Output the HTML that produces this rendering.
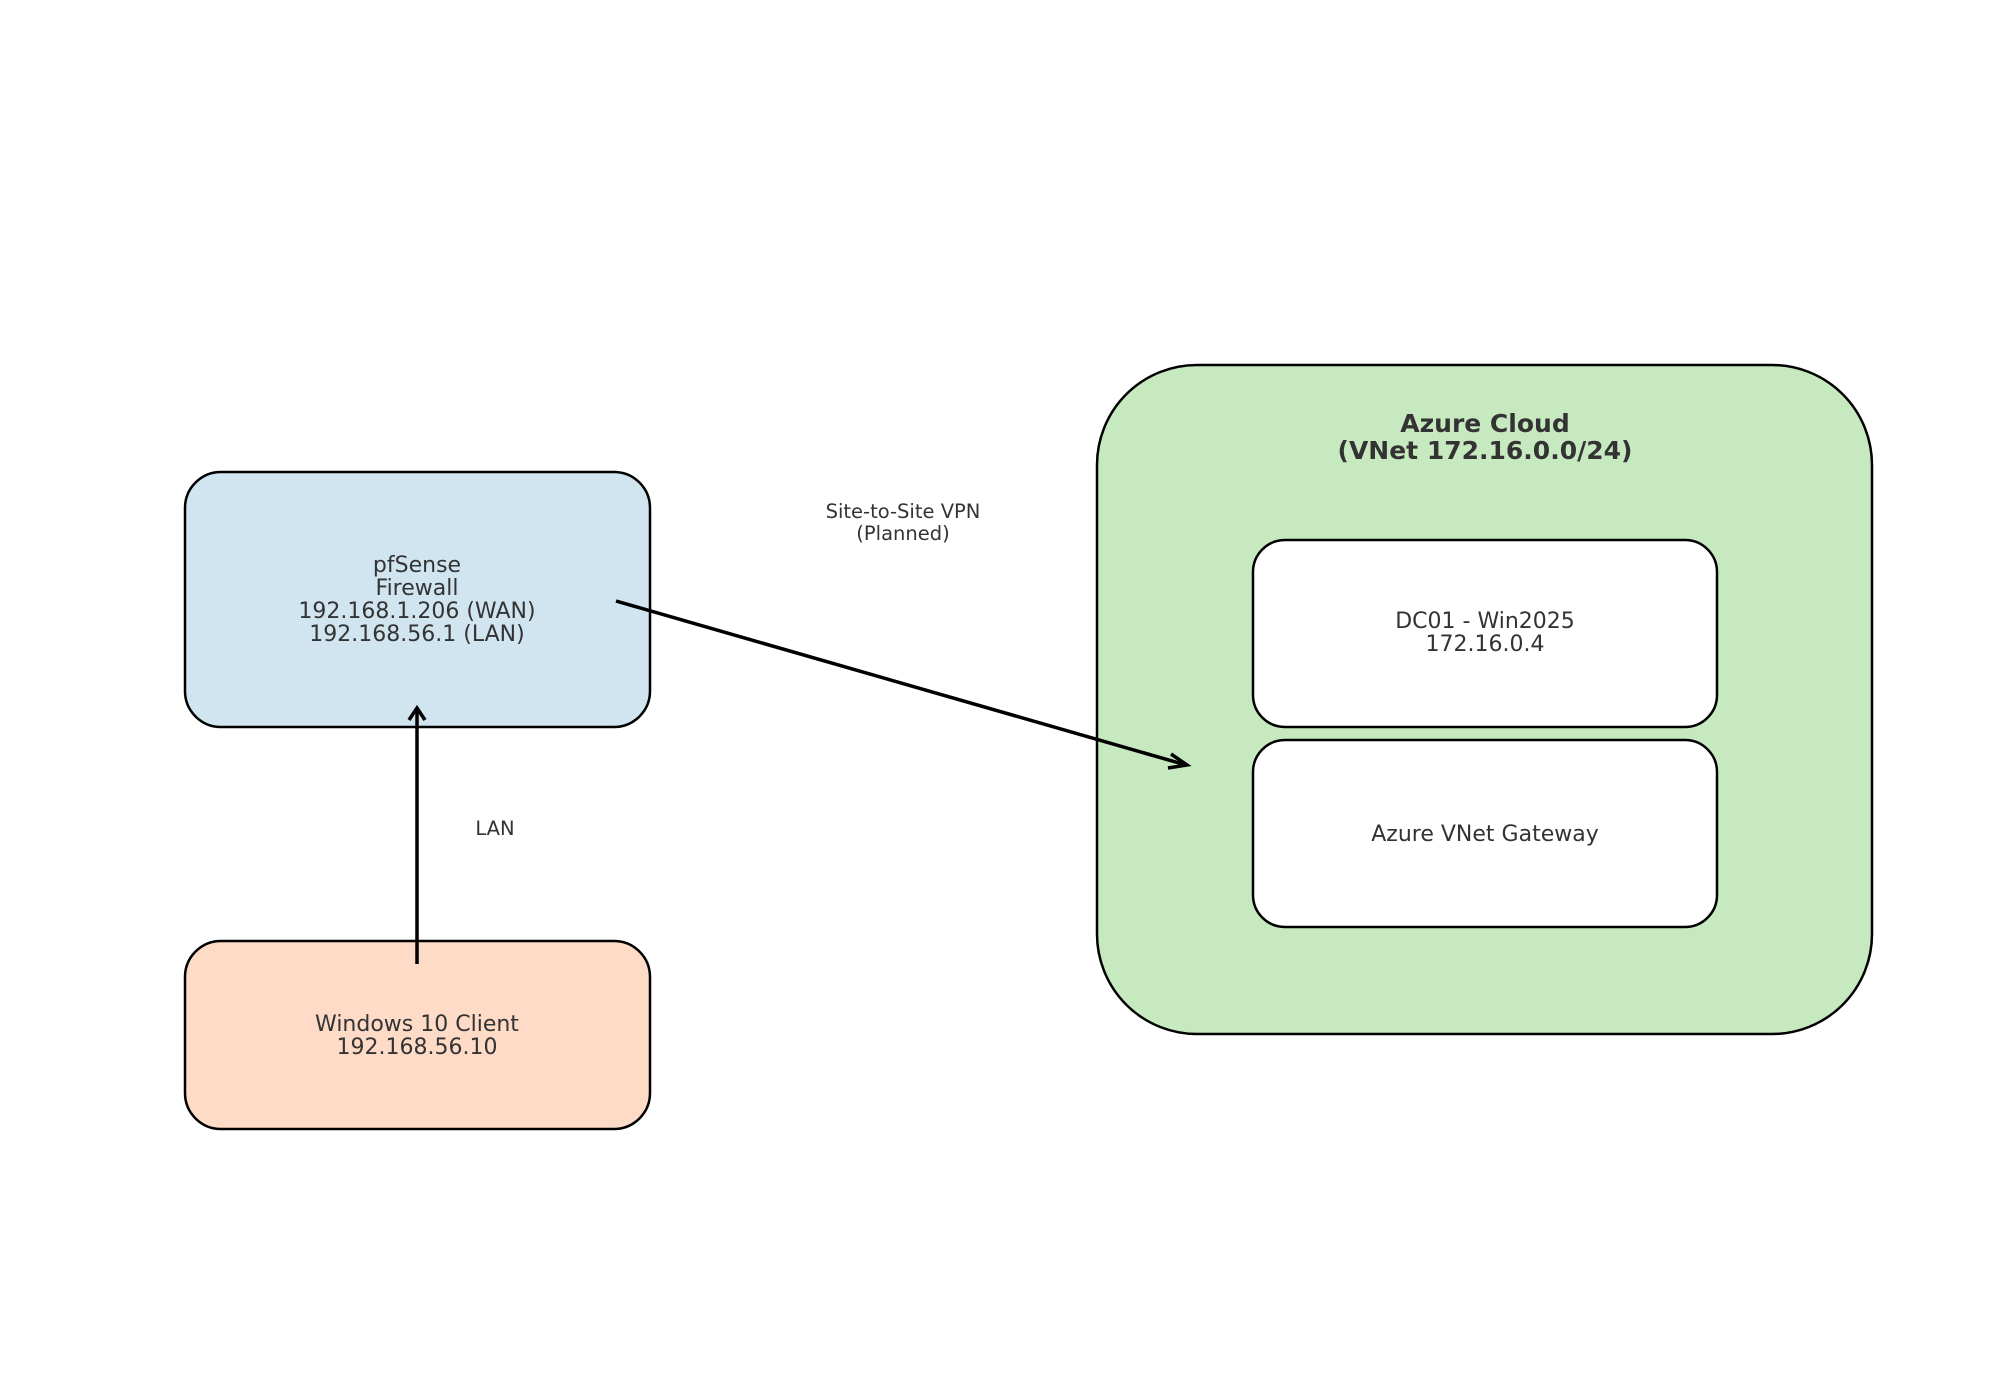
<!DOCTYPE html>
<html><head><meta charset="utf-8"><style>
html,body{margin:0;padding:0;background:#fff;}
svg{display:block;}
text{font-family:"DejaVu Sans","Liberation Sans",sans-serif;fill:#333;}
</style></head><body>
<svg width="2000" height="1400" viewBox="0 0 2000 1400" xmlns="http://www.w3.org/2000/svg">
<rect width="2000" height="1400" fill="#fff"/>
<!-- pfSense -->
<rect x="185" y="472" width="465" height="255" rx="36" fill="#d1e5f0" stroke="#000" stroke-width="2.5"/>
<text text-anchor="middle" font-size="22"><tspan x="417" y="572">pfSense</tspan><tspan x="417" y="595">Firewall</tspan><tspan x="417" y="618">192.168.1.206 (WAN)</tspan><tspan x="417" y="641">192.168.56.1 (LAN)</tspan></text>
<!-- Windows -->
<rect x="185" y="941" width="465" height="188" rx="36" fill="#fddbc7" stroke="#000" stroke-width="2.5"/>
<text text-anchor="middle" font-size="22"><tspan x="417" y="1031">Windows 10 Client</tspan><tspan x="417" y="1054">192.168.56.10</tspan></text>
<!-- Azure -->
<rect x="1097" y="365" width="775" height="669" rx="100" fill="#c7e9c0" stroke="#000" stroke-width="2.5"/>
<text text-anchor="middle" font-size="25" font-weight="bold"><tspan x="1485" y="432">Azure Cloud</tspan><tspan x="1485" y="459">(VNet 172.16.0.0/24)</tspan></text>
<rect x="1253" y="540" width="464" height="187" rx="32" fill="#fff" stroke="#000" stroke-width="2.5"/>
<text text-anchor="middle" font-size="22"><tspan x="1485" y="628">DC01 - Win2025</tspan><tspan x="1485" y="651">172.16.0.4</tspan></text>
<rect x="1253" y="740" width="464" height="187" rx="32" fill="#fff" stroke="#000" stroke-width="2.5"/>
<text text-anchor="middle" font-size="22" x="1485" y="841">Azure VNet Gateway</text>
<!-- arrows -->
<line x1="417" y1="964" x2="417" y2="708" stroke="#000" stroke-width="3.5"/>
<polyline points="409,720 417,708 425,720" fill="none" stroke="#000" stroke-width="3.5"/>
<line x1="616" y1="601" x2="1186" y2="765" stroke="#000" stroke-width="3.5"/>
<polyline points="1171,754 1187,765 1168,768" fill="none" stroke="#000" stroke-width="3.5"/>
<text text-anchor="middle" font-size="19.5"><tspan x="903" y="518">Site-to-Site VPN</tspan><tspan x="903" y="540">(Planned)</tspan></text>
<text text-anchor="middle" font-size="19.5" x="495" y="835">LAN</text>
</svg>
</body></html>
